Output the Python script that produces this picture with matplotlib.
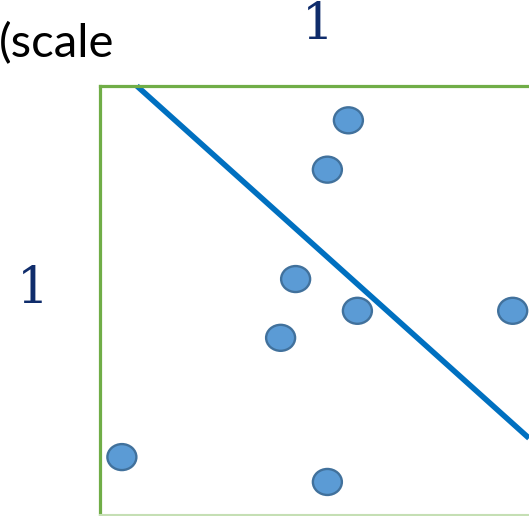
import matplotlib
matplotlib.use("Agg")
import matplotlib.pyplot as plt
from matplotlib.patches import Ellipse

# point positions inside the unit box (0..1 both ways)
pts_x = [0.579, 0.530, 0.456, 0.600, 0.421, 0.962, 0.051, 0.530]
pts_y = [0.920, 0.805, 0.550, 0.476, 0.413, 0.476, 0.135, 0.077]

# separating line
line_x = [0.086, 1.0]
line_y = [1.0, 0.179]

scale_label = "(scale"
top_label = "1"
side_label = "1"

W, H = 529, 516
fig = plt.figure(figsize=(W / 100, H / 100), dpi=100)
fig.patch.set_facecolor("white")

# box from pixel x=100..529, y=86..515
ax = fig.add_axes([100 / W, 1 / H, 429 / W, 429 / H])
ax.set_xlim(0, 1)
ax.set_ylim(0, 1)
ax.set_xticks([])
ax.set_yticks([])
ax.set_facecolor("none")

green = "#70AD47"
ax.spines["left"].set_color(green)
ax.spines["left"].set_linewidth(2.3)
ax.spines["top"].set_color(green)
ax.spines["top"].set_linewidth(2.3)
ax.spines["bottom"].set_color("#C5DFB4")
ax.spines["bottom"].set_linewidth(1.5)
ax.spines["right"].set_visible(False)

ax.plot(line_x, line_y, color="#0070C0", linewidth=4.0,
        solid_capstyle="butt", clip_on=False, zorder=2)

ew, eh = 29 / 429, 26 / 429
for x, y in zip(pts_x, pts_y):
    e = Ellipse((x, y), ew, eh, facecolor="#5B9BD5", edgecolor="#41719C",
                linewidth=1.7, clip_on=False, zorder=3)
    ax.add_patch(e)

fig.text(114 / W, 1 - 57 / H, scale_label, ha="right", va="baseline",
         fontsize=34, family="Lato", color="black")

navy = "#0F2C6B"
fig.text(318 / W, 1 - 39 / H, top_label, ha="center", va="baseline",
         fontsize=36, family="DejaVu Serif", color=navy)
fig.text(32.5 / W, 1 - 303 / H, side_label, ha="center", va="baseline",
         fontsize=36, family="DejaVu Serif", color=navy)

fig.savefig("out.png", dpi=100)
